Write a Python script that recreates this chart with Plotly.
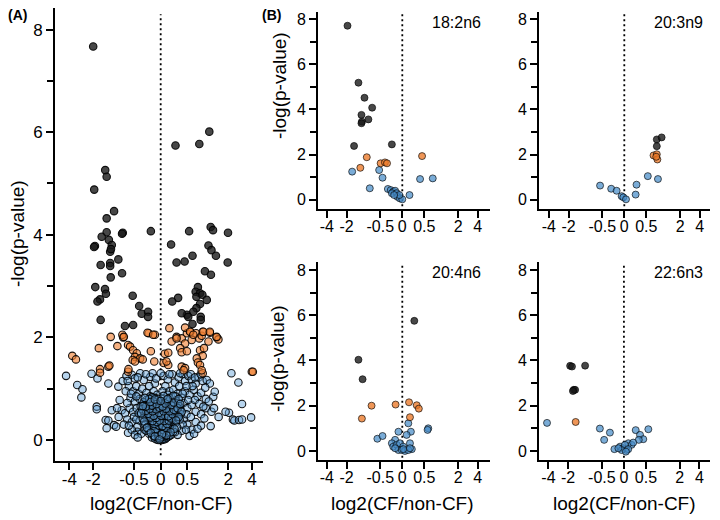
import numpy as np
import plotly.graph_objects as go

# ---------------- data (log2 fold change, -log10 p) ----------------
XTICK_VALUES = [-4, -2, -0.5, 0, 0.5, 2, 4]
XTICK_LABELS = ["-4", "-2", "-0.5", "0", "0.5", "2", "4"]
YTICK_VALUES = [0, 2, 4, 6, 8]
YTICK_LABELS = ["0", "2", "4", "6", "8"]

# Panel A: all fatty acids
A_DARK = [(-2.0, 7.67), (0.26, 5.74), (0.80, 5.77), (1.12, 6.01), (-1.39, 5.26), (-1.33, 5.13),
          (-1.94, 4.88), (-1.05, 4.46), (-1.33, 4.32), (-1.33, 4.05), (-1.55, 3.96), (-1.24, 3.90),
          (-0.78, 4.04), (-0.80, 4.02), (-1.90, 3.78), (-1.95, 3.76), (-1.13, 3.80), (-1.19, 3.67),
          (-1.16, 3.72), (-0.91, 3.52), (-1.60, 3.41), (-1.19, 3.45), (-1.19, 3.39), (-0.80, 3.25),
          (-1.17, 3.17), (-1.88, 2.98), (-1.40, 2.94), (-1.36, 2.85), (-1.63, 2.74), (-1.76, 2.70),
          (-0.53, 2.81), (-0.39, 2.61), (-0.34, 2.46), (-0.22, 2.50), (-0.22, 2.40), (-1.60, 2.34),
          (-0.72, 2.22), (-0.52, 2.24), (-0.17, 4.07), (0.54, 4.07), (0.18, 3.81), (0.28, 3.46),
          (0.44, 3.48), (0.62, 3.59), (1.17, 4.15), (1.26, 4.09), (1.99, 4.04), (1.09, 3.79),
          (1.20, 3.70), (1.38, 3.59), (1.97, 3.46), (0.97, 3.29), (1.18, 3.22), (0.76, 2.98),
          (0.70, 2.89), (0.82, 2.86), (0.72, 2.79), (0.89, 2.83), (1.03, 2.73), (0.31, 2.77),
          (0.20, 2.70), (0.82, 2.65), (0.72, 2.57), (0.64, 2.50), (0.49, 2.44), (0.38, 2.47),
          (0.84, 2.40), (0.84, 2.34), (0.62, 2.26), (0.52, 2.40)]
A_ORANGE = [(-3.68, 1.64), (-3.31, 1.57), (-1.69, 1.79), (-1.63, 1.38), (-1.63, 1.31), (-1.26, 1.43),
            (-1.22, 1.45), (-0.94, 1.83), (-0.77, 2.00), (-0.79, 2.05), (-0.64, 1.85), (-0.59, 1.82),
            (-0.64, 1.33), (-0.63, 1.38), (-0.52, 1.75), (-0.44, 1.69), (-0.48, 1.62), (-0.53, 1.56),
            (-0.37, 1.59), (-0.32, 1.57), (-0.48, 1.53), (-0.21, 2.08), (-0.10, 2.05), (-0.17, 1.73),
            (-0.11, 1.53), (0.07, 1.68), (0.13, 1.70), (0.05, 1.50), (0.13, 1.46), (0.10, 1.53),
            (0.19, 1.92), (0.28, 2.01), (0.38, 1.98), (0.45, 1.88), (0.49, 2.08), (0.60, 1.95),
            (0.57, 2.11), (0.71, 2.08), (0.80, 1.98), (0.87, 2.03), (0.90, 2.11), (1.14, 2.09),
            (1.09, 1.92), (1.41, 2.00), (1.49, 1.96), (0.35, 1.79), (0.82, 1.75), (0.94, 1.79),
            (0.90, 1.64), (0.38, 1.71), (0.49, 1.73), (0.73, 1.59), (0.76, 1.51), (0.82, 1.46),
            (0.38, 1.43), (0.45, 1.40), (0.42, 1.36), (0.90, 1.30), (0.87, 1.36), (3.98, 1.33),
            (4.10, 1.33), (-1.17, 2.01), (-0.75, 2.01), (-0.23, 2.09), (-0.13, 2.05), (0.15, 2.18),
            (0.28, 1.98), (0.45, 2.19), (0.56, 2.11), (0.64, 2.05), (0.92, 2.11), (1.14, 2.11),
            (1.41, 2.01)]
A_BLUE = [(-4.4, 1.25), (-3.19, 1.07), (-2.74, 0.99), (-2.83, 0.83), (-2.1, 1.29), (-1.76, 1.20),
          (-1.8, 0.65), (-1.8, 0.60), (-1.26, 1.10), (-0.91, 1.04), (-1.13, 0.58), (-1.37, 0.39),
          (-1.26, 0.38), (-1.05, 0.29), (-1.33, 0.23), (-0.98, 0.26), (-0.87, 0.78), (-0.81, 0.58),
          (-0.72, 0.52), (-0.64, 0.14), (-0.43, 0.26), (-0.43, 0.16),
          (-0.55, 1.27), (-0.48, 1.20), (-0.37, 1.30), (-0.30, 1.17), (-0.18, 1.23), (-0.10, 1.10),
          (-0.14, 1.30), (-0.62, 1.05), (-0.52, 0.95), (-0.45, 1.05), (-0.40, 0.90), (-0.33, 1.00),
          (-0.25, 0.92), (-0.20, 1.05), (-0.12, 0.95), (-0.06, 0.88), (-0.58, 0.82), (-0.48, 0.75),
          (-0.38, 0.80), (-0.30, 0.70), (-0.22, 0.78), (-0.15, 0.70), (-0.60, 0.62), (-0.52, 0.55),
          (-0.44, 0.62), (-0.35, 0.50), (-0.26, 0.58), (-0.66, 0.40), (-0.55, 0.35), (-0.50, 0.45),
          (-0.38, 0.38), (-0.30, 0.30), (-0.55, 0.20), (-0.48, 0.10), (-0.35, 0.12), (-0.28, 0.20),
          (-0.75, 0.30), (-0.70, 0.95), (-0.78, 1.15), (-0.68, 1.25),
          (0.05, 1.25), (0.12, 1.18), (0.20, 1.28), (0.25, 1.12), (0.32, 1.22), (0.40, 1.28),
          (0.45, 1.15), (0.52, 1.25), (0.60, 1.18), (0.70, 1.10), (0.78, 1.22), (0.90, 1.15),
          (1.03, 1.17), (1.14, 1.10), (0.08, 1.05), (0.15, 0.95), (0.22, 0.98), (0.30, 0.90),
          (0.38, 0.82), (0.45, 0.95), (0.55, 0.88), (0.65, 0.98), (0.75, 0.85), (0.85, 0.92),
          (1.00, 0.80), (1.27, 0.84), (1.33, 0.94), (0.10, 0.78), (0.18, 0.70), (0.28, 0.72),
          (0.35, 0.60), (0.42, 0.72), (0.50, 0.62), (0.60, 0.68), (0.70, 0.55), (0.85, 0.50),
          (1.00, 0.62), (1.20, 0.55), (0.32, 0.45), (0.42, 0.40), (0.50, 0.30), (0.60, 0.20),
          (0.70, 0.35), (0.85, 0.28), (1.17, 0.27), (0.38, 0.18), (0.30, 0.10), (0.55, 0.08),
          (0.95, 0.42), (1.10, 0.75), (0.62, 1.05), (0.48, 1.05),
          (-0.65, 1.15), (-0.42, 1.22), (-0.26, 1.28), (-0.08, 1.20), (0.00, 1.30), (0.15, 1.28),
          (0.35, 1.30), (0.58, 1.28), (0.68, 1.22), (0.84, 1.28), (-0.57, 0.90), (-0.45, 0.85),
          (-0.36, 0.65), (-0.18, 0.85), (-0.10, 0.82), (0.03, 0.95), (0.12, 0.88), (0.26, 0.85),
          (0.33, 1.05), (0.40, 0.90), (0.52, 0.78), (0.68, 0.78), (0.80, 0.70), (0.92, 0.65),
          (0.48, 0.50), (0.58, 0.45), (0.40, 0.30), (0.47, 0.20), (0.66, 0.12), (0.75, 0.22),
          (-0.62, 0.28), (-0.45, 0.40), (-0.40, 0.52), (-0.66, 0.72), (-0.90, 0.45), (-0.42, 0.05),
          (-0.95, 0.62), (1.30, 0.62), (1.50, 0.45), (0.98, 1.02),
          (2.2, 1.30), (2.7, 1.12), (3.0, 0.70), (2.05, 0.53), (1.85, 0.55), (2.3, 0.40),
          (2.4, 0.38), (2.75, 0.39), (3.0, 0.40), (3.9, 0.44),
          (-0.02, 0.02), (0.01, 0.03), (0.03, 0.05), (-0.04, 0.06), (0.00, 0.08), (0.05, 0.10),
          (-0.06, 0.09), (0.02, 0.00), (-0.01, 0.12), (0.04, 0.13), (-0.08, 0.14), (0.07, 0.15),
          (-0.10, 0.18), (0.10, 0.17), (-0.03, 0.16), (0.02, 0.19), (-0.12, 0.20), (0.12, 0.21),
          (-0.06, 0.22), (0.06, 0.23), (-0.14, 0.25), (0.14, 0.24), (-0.09, 0.27), (0.09, 0.28),
          (-0.02, 0.26), (0.03, 0.30), (-0.16, 0.30), (0.17, 0.29), (-0.20, 0.28), (0.20, 0.26),
          (-0.18, 0.35), (0.18, 0.34), (-0.11, 0.33), (0.12, 0.36), (-0.05, 0.38), (0.05, 0.35),
          (-0.22, 0.38), (0.23, 0.39), (0.00, 0.40), (-0.14, 0.40), (0.15, 0.41), (0.26, 0.33),
          (-0.24, 0.44), (0.25, 0.45), (-0.17, 0.46), (0.18, 0.47), (-0.08, 0.45), (0.08, 0.44),
          (-0.28, 0.48), (0.29, 0.48), (0.02, 0.49), (-0.12, 0.50), (0.13, 0.50), (-0.30, 0.55),
          (0.30, 0.54), (-0.20, 0.56), (0.21, 0.57), (-0.10, 0.58), (0.10, 0.55), (0.00, 0.57),
          (-0.25, 0.60), (0.26, 0.60), (0.35, 0.58), (-0.18, 0.65), (0.16, 0.66), (-0.05, 0.64),
          (0.06, 0.68), (0.24, 0.70), (-0.28, 0.68), (0.33, 0.66), (-0.20, 0.12), (0.18, 0.10),
          (-0.15, 0.05), (0.12, 0.06), (0.25, 0.15), (-0.25, 0.18), (0.08, 0.02), (-0.07, 0.01),
          (-0.01, 0.05), (0.02, 0.07), (-0.03, 0.10), (0.04, 0.08), (-0.05, 0.13), (0.06, 0.12),
          (-0.02, 0.15), (0.03, 0.17), (-0.07, 0.19), (0.08, 0.20), (-0.04, 0.21), (0.01, 0.23),
          (-0.09, 0.24), (0.11, 0.25), (-0.05, 0.27), (0.06, 0.27), (-0.12, 0.29), (0.13, 0.30),
          (-0.01, 0.31), (0.09, 0.32), (-0.07, 0.33), (-0.15, 0.34), (0.16, 0.35), (0.02, 0.36),
          (-0.10, 0.37), (0.07, 0.39), (-0.19, 0.39), (0.20, 0.40), (-0.03, 0.42), (0.11, 0.42),
          (-0.13, 0.43), (0.04, 0.46), (-0.21, 0.47), (0.22, 0.46), (-0.05, 0.50), (0.07, 0.51),
          (-0.16, 0.52), (0.17, 0.53), (0.03, 0.54), (-0.07, 0.55), (-0.23, 0.55), (0.24, 0.52),
          (0.13, 0.58), (-0.14, 0.60), (0.04, 0.61), (0.20, 0.62), (-0.09, 0.63), (-0.22, 0.63),
          (0.10, 0.64), (0.28, 0.64), (0.00, 0.66), (-0.13, 0.69), (0.13, 0.70), (-0.02, 0.72),
          (0.19, 0.74), (-0.20, 0.72), (0.07, 0.75), (-0.08, 0.77), (0.27, 0.77), (-0.25, 0.78),
          (0.02, 0.80), (0.15, 0.82), (-0.15, 0.83), (0.22, 0.86), (-0.30, 0.74), (0.31, 0.72),
          (0.36, 0.50), (-0.33, 0.60), (0.34, 0.40), (-0.32, 0.42), (0.29, 0.25), (-0.27, 0.30),
          (0.22, 0.16), (-0.21, 0.20), (0.15, 0.08), (-0.12, 0.08), (0.09, 0.04), (-0.10, 0.03),
          (0.05, 0.01), (-0.04, 0.00),
          (0.00, 0.03), (-0.03, 0.04), (0.03, 0.02), (0.01, 0.09), (-0.05, 0.11), (0.06, 0.07),
          (-0.02, 0.18), (0.05, 0.16), (-0.08, 0.17), (0.09, 0.13), (-0.11, 0.22), (0.10, 0.22),
          (0.00, 0.21), (-0.04, 0.24), (0.04, 0.25), (-0.13, 0.27), (0.12, 0.27), (-0.07, 0.30),
          (0.07, 0.31), (0.00, 0.33), (-0.12, 0.35), (0.10, 0.34), (-0.04, 0.35), (0.04, 0.39),
          (-0.09, 0.41), (0.09, 0.40), (-0.16, 0.42), (0.16, 0.44), (0.00, 0.44), (-0.05, 0.47),
          (0.05, 0.48), (-0.10, 0.53), (0.10, 0.52), (-0.19, 0.50), (0.19, 0.50), (0.00, 0.52),
          (-0.06, 0.60), (0.07, 0.58), (-0.17, 0.58), (0.17, 0.60), (-0.11, 0.66), (0.11, 0.67),
          (0.00, 0.70), (-0.23, 0.67), (0.22, 0.66), (-0.04, 0.80), (0.10, 0.78), (-0.12, 0.75),
          (0.05, 0.86), (-0.20, 0.80),
          (-0.015, 0.04), (0.015, 0.06), (-0.035, 0.08), (0.035, 0.11), (-0.06, 0.15), (0.05, 0.19),
          (-0.09, 0.21), (0.09, 0.24), (-0.03, 0.28), (0.03, 0.27), (-0.11, 0.31), (0.11, 0.31),
          (-0.06, 0.35), (0.06, 0.37), (-0.14, 0.37), (0.14, 0.38), (-0.02, 0.38), (-0.08, 0.43),
          (0.08, 0.47), (-0.18, 0.44), (0.18, 0.42), (0.01, 0.47), (-0.12, 0.47), (0.13, 0.46),
          (-0.22, 0.51), (0.21, 0.50), (-0.03, 0.53), (0.05, 0.56), (-0.14, 0.56), (0.15, 0.56),
          (-0.26, 0.57), (0.27, 0.56), (-0.08, 0.60), (0.09, 0.61), (-0.19, 0.61), (0.23, 0.59),
          (-0.02, 0.63), (0.03, 0.65), (-0.15, 0.67), (0.18, 0.68), (-0.26, 0.65), (0.30, 0.62),
          (-0.07, 0.70), (0.08, 0.71), (-0.18, 0.74), (0.23, 0.73), (-0.10, 0.79), (0.12, 0.80),
          (0.32, 0.80), (-0.28, 0.82), (0.00, 0.76), (-0.32, 0.66), (0.35, 0.70), (-0.35, 0.52),
          (0.38, 0.55), (0.32, 0.45), (-0.29, 0.36), (0.27, 0.38), (-0.24, 0.24), (0.24, 0.22),
          (-0.17, 0.14), (0.17, 0.15), (-0.10, 0.07), (0.10, 0.09), (0.02, 0.11), (-0.02, 0.01)]

# Panel B: selected fatty acids
B_NAMES = ["18:2n6", "20:3n9", "20:4n6", "22:6n3"]
B_DARK = [
    [(-1.93, 7.72), (-1.29, 5.19), (-1.02, 4.52), (-0.74, 4.08), (-1.15, 3.76), (-0.87, 3.56),
     (-1.13, 3.46), (-1.15, 3.39), (-1.52, 2.38), (-0.22, 2.45)],
    [(0.82, 2.67), (1.00, 2.76), (0.82, 2.37)],
    [(0.255, 5.75), (-1.29, 4.03), (-1.10, 3.17)],
    [(-1.86, 3.76), (-1.74, 3.73), (-1.06, 3.77), (-1.63, 2.70), (-1.55, 2.70), (-1.68, 2.65)],
]
B_ORANGE = [
    [(-0.93, 1.88), (-1.20, 1.41), (-0.49, 1.61), (-0.38, 1.65), (-0.33, 1.61), (0.44, 1.93)],
    [(0.71, 1.96), (0.82, 2.01), (0.84, 1.78), (0.80, 1.90)],
    [(-0.76, 2.00), (-1.13, 1.43), (-0.14, 2.05), (0.14, 2.15), (0.31, 2.02), (0.36, 1.87),
     (0.16, 1.49)],
    [(-1.52, 1.28)],
]
B_BLUE = [
    [(-1.63, 1.24), (-0.53, 1.31), (-0.44, 0.97), (-0.82, 0.50), (0.39, 0.91), (0.75, 0.94),
     (0.15, 0.20), (-0.31, 0.47), (-0.245, 0.42), (-0.19, 0.35), (-0.15, 0.39), (-0.22, 0.28),
     (-0.115, 0.28), (-0.10, 0.12), (-0.05, 0.05), (0.00, 0.01), (-0.06, 0.20), (-0.17, 0.20)],
    [(-0.56, 0.62), (-0.28, 0.48), (-0.16, 0.39), (-0.055, 0.15), (-0.02, 0.10), (0.035, 0.01),
     (0.24, 0.22), (0.26, 0.66), (0.54, 1.04), (0.86, 0.91)],
    [(-0.58, 0.54), (-0.44, 0.66), (0.125, 1.22), (0.61, 1.00), (0.59, 0.93), (-0.08, 0.85),
     (0.18, 0.85), (0.09, 0.71), (-0.15, 0.49), (-0.22, 0.34), (-0.19, 0.19), (-0.115, 0.27),
     (-0.047, 0.34), (0.02, 0.19), (0.16, 0.34), (0.20, 0.08), (-0.08, 0.04), (-0.01, 0.04),
     (0.055, 0.00), (0.125, 0.04), (0.02, 0.08), (-0.15, 0.12), (0.16, 0.12)],
    [(-4.2, 1.24), (-0.555, 0.99), (-0.30, 0.81), (-0.44, 0.49), (-0.20, 0.08), (0.25, 0.92),
     (0.565, 0.96), (0.35, 0.71), (0.43, 0.52), (0.32, 0.49), (-0.08, 0.19), (-0.015, 0.12),
     (0.055, 0.04), (0.09, 0.34), (0.16, 0.27), (0.195, 0.37), (0.02, 0.27), (-0.047, 0.04),
     (0.09, 0.08), (0.04, -0.03), (-0.115, 0.12)],
]

# ---------------- styling ----------------
FONT = "Liberation Sans, Arial, sans-serif"
SCALE_S = 0.6  # pseudo-log (asinh) x scale
OFF = 8        # default page margin of the HTML body
W, H = 712, 512


def tx(v):
    return np.arcsinh(np.asarray(v, dtype=float) / SCALE_S)


def split(pts):
    return tx([p[0] for p in pts]), [p[1] for p in pts]


def xp(px):
    return min(1.0, max(0.0, (px - OFF) / W))


def yp(py):
    return min(1.0, max(0.0, 1 - (py - OFF) / H))


fig = go.Figure()

panels = [
    dict(xd=(55, 263), yd=(8, 461), xr=(-3.005, 2.909), yr=(-0.41, 8.42), fs=17),
    dict(xd=(318, 490), yd=(12, 209), xr=(-2.90, 3.017), yr=(-0.42, 8.33), fs=16),
    dict(xd=(539, 710), yd=(12, 209), xr=(-2.934, 2.948), yr=(-0.42, 8.33), fs=16),
    dict(xd=(318, 490), yd=(262, 460), xr=(-2.90, 3.017), yr=(-0.40, 8.35), fs=16),
    dict(xd=(539, 710), yd=(262, 460), xr=(-2.92, 2.96), yr=(-0.40, 8.35), fs=16),
]

groups_all = [(A_BLUE, A_ORANGE, A_DARK)] + [(B_BLUE[i], B_ORANGE[i], B_DARK[i]) for i in range(4)]

for i, (pan, grp) in enumerate(zip(panels, groups_all)):
    n = "" if i == 0 else str(i + 1)
    xa, ya = "x" + n, "y" + n
    if i == 0:
        cols = ["rgba(95,160,215,0.45)", "rgba(240,125,45,0.6)", "rgba(25,25,25,0.8)"]
        size = 7.5
        edge = dict(color="rgba(0,0,0,0.9)", width=1.1)
    else:
        cols = ["rgba(70,140,200,0.72)", "rgba(235,120,40,0.78)", "rgba(25,25,25,0.8)"]
        size = 7
        edge = dict(color="rgba(0,0,0,0.8)", width=0.8)
    for pts, c in zip(grp, cols):
        x, y = split(pts)
        fig.add_trace(go.Scatter(x=x, y=y, mode="markers", xaxis=xa, yaxis=ya, showlegend=False,
                                 hoverinfo="skip",
                                 marker=dict(size=size, color=c, line=edge)))
    common = dict(showline=True, linecolor="black", linewidth=2, ticks="outside", ticklen=7,
                  tickwidth=2, tickcolor="black", showgrid=False, zeroline=False,
                  tickfont=dict(family=FONT, size=pan["fs"], color="black"), fixedrange=True)
    xdom = [xp(pan["xd"][0]), xp(pan["xd"][1])]
    ydom = [yp(pan["yd"][1]), yp(pan["yd"][0])]
    fig.update_layout(**{
        ("xaxis" + n): dict(domain=xdom, range=list(pan["xr"]), anchor=ya,
                            tickmode="array", tickvals=tx(XTICK_VALUES), ticktext=XTICK_LABELS,
                            ticklabelstandoff=-5, **common),
        ("yaxis" + n): dict(domain=ydom, range=list(pan["yr"]), anchor=xa,
                            tickmode="array", tickvals=YTICK_VALUES, ticktext=YTICK_LABELS,
                            minor=dict(tickvals=[1, 3, 5, 7], ticks="outside", ticklen=6,
                                       tickwidth=2, tickcolor="black"),
                            **common),
    })
    fig.add_shape(type="line", xref=xa, yref=ya, x0=0, x1=0, y0=-0.3, y1=8.3,
                  line=dict(color="black", width=1.8, dash="2px,3px"), layer="below")


def ann(text, x, y, size=19, angle=0, bold=False):
    fig.add_annotation(text=("<b>%s</b>" % text) if bold else text, x=xp(x), y=yp(y),
                       xref="paper", yref="paper", showarrow=False, textangle=angle,
                       xanchor="center", yanchor="middle",
                       font=dict(family=FONT, size=size, color="black"))


ann("(A)", 17, 15, size=14, bold=True)
ann("(B)", 271, 15, size=14, bold=True)
ann("-log(p-value)", 17, 234, angle=-90)
ann("-log(p-value)", 279, 86, angle=-90)
ann("-log(p-value)", 277, 359, angle=-90)
ann("log2(CF/non-CF)", 161, 503)
ann("log2(CF/non-CF)", 402, 503)
ann("log2(CF/non-CF)", 624, 503)
for name, (cx, cy) in zip(B_NAMES, [(456, 22), (678, 22), (456, 272), (678, 272)]):
    ann(name, cx, cy, size=16)

fig.update_layout(width=W, height=H, margin=dict(l=0, r=0, t=0, b=0),
                  plot_bgcolor="white", paper_bgcolor="white")
fig.write_html("out.html")
